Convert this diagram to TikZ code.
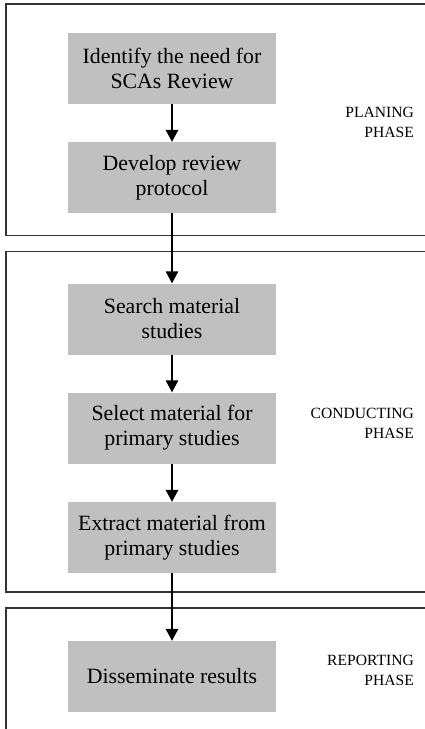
\documentclass[tikz,border=0pt]{standalone}
\usepackage{fontspec}
\setmainfont{Liberation Serif}
\usetikzlibrary{positioning,arrows.meta}
\definecolor{boxgray}{RGB}{192,192,192}

\begin{document}
\begin{tikzpicture}[x=1pt, y=-1pt,
  stepbox/.style={fill=boxgray, minimum width=208pt, minimum height=71pt,
    align=center, font=\fontsize{21.8}{25}\selectfont},
  phase/.style={anchor=east, align=right, inner sep=0pt,
    font=\fontsize{15.6}{20}\selectfont},
  frame/.style={draw=black!80, line width=1.2pt},
  flow/.style={-{Triangle[width=12.5pt,length=12pt]}, line width=1.4pt}]
\useasboundingbox (0,0) rectangle (425,729);

% phase frames
\draw[frame] (425,4) -| (6,235.5) -- (425,235.5);
\draw[frame] (425,251.5) -| (6,592) -- (425,592);
\draw[frame] (425,608) -| (6,729);

\node[stepbox] (need) at (172,68.5) {Identify the need for\\SCAs Review};
\node[stepbox] (protocol) at (172,177.5) {Develop review\\protocol};
\node[stepbox] (search) at (172,319) {Search material\\studies};
\node[stepbox] (select) at (172,428) {Select material for\\primary studies};
\node[stepbox] (extract) at (172,537.5) {Extract material from\\primary studies};
\node[stepbox] (report) at (172,676.5) {Disseminate results};

\node[phase] (planing) at (414,122) {PLANING\\PHASE};
\node[phase] (conducting) at (414,423) {CONDUCTING\\PHASE};
\node[phase] (reporting) at (414,670.5) {REPORTING\\PHASE};

\draw
	(need) edge[flow] (protocol)
	(protocol) edge[flow] (search)
	(search) edge[flow] (select)
	(select) edge[flow] (extract)
	(extract) edge[flow] (report)
;
\end{tikzpicture}
\end{document}
